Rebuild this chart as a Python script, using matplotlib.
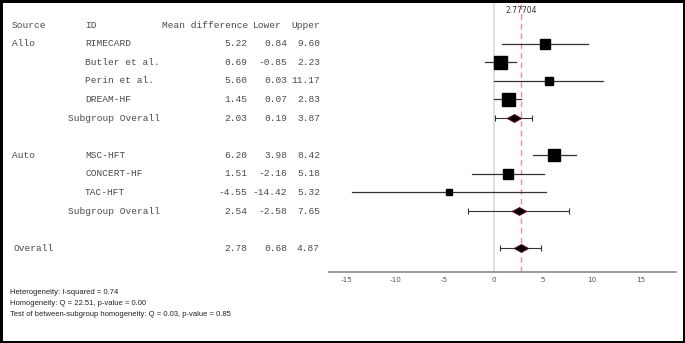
import numpy as np
import matplotlib
matplotlib.use("Agg")
import matplotlib.pyplot as plt
from matplotlib.patches import Rectangle
from matplotlib.path import Path
from matplotlib.transforms import blended_transform_factory

# Table data
sources = ["Allo", "", "", "", "", "Auto", "", "", "", ""]
ids = ["RIMECARD", "Butler et al.", "Perin et al.", "DREAM-HF", "Subgroup Overall",
       "MSC-HFT", "CONCERT-HF", "TAC-HFT", "Subgroup Overall", "Overall"]
mean_diff = [5.22, 0.69, 5.60, 1.45, 2.03, 6.20, 1.51, -4.55, 2.54, 2.78]
lower = [0.84, -0.85, 0.03, 0.07, 0.19, 3.98, -2.16, -14.42, -2.58, 0.68]
upper = [9.60, 2.23, 11.17, 2.83, 3.87, 8.42, 5.18, 5.32, 7.65, 4.87]
is_summary = [False, False, False, False, True, False, False, False, True, True]
# relative study weights (square size)
weights = [9.3, 13.0, 7.7, 13.0, 0, 12.0, 10.0, 5.7, 0, 0]
row_pos = [0, 1, 2, 3, 4, 6, 7, 8, 9, 11]
overall_est = 2.77704

footnotes = [
    "Heterogeneity: I-squared = 0.74",
    "Homogeneity: Q = 22.51, p-value = 0.00",
    "Test of between-subgroup homogeneity: Q = 0.03, p-value = 0.85",
]
xticks = [-15, -10, -5, 0, 5, 10, 15]

plt.rcParams['axes.unicode_minus'] = False

W, H = 685, 343
fig = plt.figure(figsize=(W / 100, H / 100), dpi=100)

# plot area in pixel terms
x0_px, x1_px = 329, 676
y_top_px, y_bot_px = 0, 271.7
ax = fig.add_axes([x0_px / W, 1 - y_bot_px / H, (x1_px - x0_px) / W, (y_bot_px - y_top_px) / H])
ax.set_xlim(-16.77, 18.58)
ax.set_ylim(12.26, -2.35)

for s in ["top", "left", "right"]:
    ax.spines[s].set_visible(False)
ax.spines["bottom"].set_color("#8a8a8a")
ax.spines["bottom"].set_linewidth(1.2)
ax.set_yticks([])
ax.set_xticks(xticks)
ax.set_xticklabels([str(t) for t in xticks])
ax.tick_params(axis="x", length=0, pad=3.5, labelsize=5.2, colors="#555555")
ax.patch.set_visible(False)

ax.axvline(0, color="#dcdcdc", lw=1.3, zorder=0)
ax.axvline(overall_est, color="#f28c8c", lw=1.0, ls=(0, (4, 3)), zorder=1)
ax.text(overall_est, -2.05, f"{overall_est:.5f}", ha="center", va="top",
        fontsize=5.5, color="#333333", family="DejaVu Sans")

diamond = Path([(-1, 0), (0, 0.55), (1, 0), (0, -0.55), (-1, 0)],
               [Path.MOVETO, Path.LINETO, Path.LINETO, Path.LINETO, Path.CLOSEPOLY])

for y, m, lo, hi, summ, w in zip(row_pos, mean_diff, lower, upper, is_summary, weights):
    if summ:
        ax.errorbar([m], [y], xerr=[[m - lo], [hi - m]], fmt="none",
                    ecolor="#333333", elinewidth=0.8, capsize=2.2, capthick=0.8, zorder=2)
        ax.plot([m], [y], marker=diamond, ms=10.5, mfc="black", mec="#7a0022",
                mew=0.6, ls="none", zorder=3)
    else:
        ax.plot([lo, hi], [y, y], color="#333333", lw=0.9, zorder=2)
        ax.plot([m], [y], marker="s", ms=w * 0.72, mfc="black", mec="black",
                ls="none", zorder=3)

# table text, x in figure pixels, y in data rows
tr = blended_transform_factory(fig.transFigure, ax.transData)
mono = dict(family="Liberation Mono", fontsize=6.8, color="#4a4a4a", va="center")

ax.text(12 / W, -1, "Source", transform=tr, ha="left", **mono)
ax.text(85 / W, -1, "ID", transform=tr, ha="left", **mono)
ax.text(248 / W, -1, "Mean difference", transform=tr, ha="right", **mono)
ax.text(253 / W, -1, "Lower", transform=tr, ha="left", **mono)
ax.text(320 / W, -1, "Upper", transform=tr, ha="right", **mono)

for y, src, name, m, lo, hi, summ in zip(row_pos, sources, ids, mean_diff, lower, upper, is_summary):
    if src:
        ax.text(12 / W, y, src, transform=tr, ha="left", **mono)
    if name == "Overall":
        xname = 14
    elif summ:
        xname = 68
    else:
        xname = 85
    ax.text(xname / W, y, name, transform=tr, ha="left", **mono)
    ax.text(247 / W, y, f"{m:.2f}", transform=tr, ha="right", **mono)
    ax.text(287 / W, y, f"{lo:.2f}", transform=tr, ha="right", **mono)
    ax.text(320 / W, y, f"{hi:.2f}", transform=tr, ha="right", **mono)

for i, line in enumerate(footnotes):
    fig.text(10 / W, 1 - (292.7 + i * 10.8) / H, line, ha="left", va="center",
             fontsize=5.5, color="#222222", family="Liberation Sans")

# black frame around the figure
fig.patches.append(Rectangle((0, 0), 1, 1, transform=fig.transFigure, fill=False,
                             edgecolor="black", lw=3.6, zorder=10))

fig.savefig("out.png", dpi=100)
